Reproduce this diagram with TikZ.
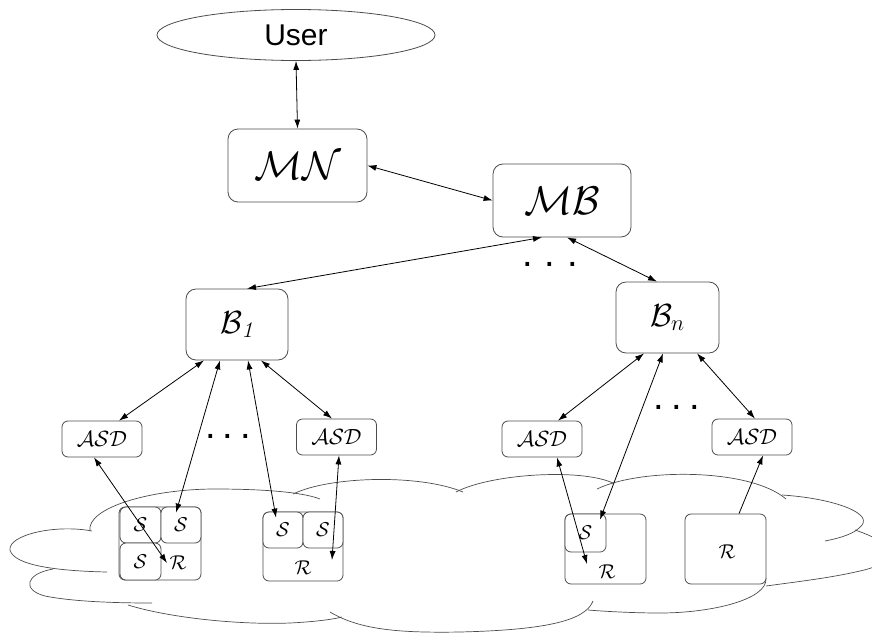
\RequirePackage{fix-cm}
\documentclass[tikz,border=0pt]{standalone}
\usepackage{fontspec}
\newfontfamily\userfont{Liberation Sans}
\usetikzlibrary{arrows.meta,shapes.geometric,positioning}

\begin{document}
\begin{tikzpicture}[x=1pt,y=-1pt,>={Latex[length=9pt,width=6pt]}]
\useasboundingbox (0,0) rectangle (872,635);

\tikzstyle{box} = [draw=black!70, shape=rectangle, rounded corners=10pt, line width=0.8pt, inner sep=0pt, fill=white]
\tikzstyle{asdbox} = [draw=black!70, shape=rectangle, rounded corners=6pt, line width=0.8pt, inner sep=0pt, minimum width=80pt, minimum height=36pt, font=\fontsize{22}{24}\selectfont]
\tikzstyle{cell} = [draw=black!70, shape=rectangle, rounded corners=6pt, line width=0.8pt, inner sep=0pt, fill=white, font=\fontsize{20}{22}\selectfont]
\tikzstyle{celltext} = [inner sep=0pt, font=\fontsize{20}{22}\selectfont]
\tikzstyle{dotrow} = [inner sep=0pt, font=\userfont\fontsize{38}{38}\selectfont]
\tikzstyle{link} = [<->, line width=0.8pt]
\tikzstyle{cloudline} = [draw=black!70, line width=0.7pt]

% Cloud
\begin{scope}
\clip (0,0) rectangle (872,635);
\draw[cloudline] (90,531) .. controls (86,508) and (150,489) .. (215,489) .. controls (270,489) and (305,493) .. (320,499);
\draw[cloudline] (293,494) .. controls (330,476) and (420,474) .. (463,492);
\draw[cloudline] (456,492) .. controls (490,474) and (580,468) .. (613,483);
\draw[cloudline] (597,489) .. controls (640,468) and (750,468) .. (786,499);
\draw[cloudline] (782,495) .. controls (830,498) and (872,512) .. (862,525) .. controls (855,534) and (840,538) .. (825,541);
\draw[cloudline] (855,530) .. controls (900,545) and (900,562) .. (860,571) .. controls (830,578) and (795,582) .. (766,586);
\draw[cloudline] (766,578) .. controls (768,600) and (710,613) .. (660,613) .. controls (630,613) and (600,611) .. (588,610);
\draw[cloudline] (330,612) .. controls (360,630) and (400,633) .. (460,632) .. controls (540,630) and (585,622) .. (593,601);
\draw[cloudline] (128,605) .. controls (170,618) and (240,625) .. (290,623) .. controls (310,622) and (330,620) .. (342,617);
\draw[cloudline] (53,569) .. controls (25,574) and (22,590) .. (45,596) .. controls (75,602) and (120,603) .. (152,603);
\draw[cloudline] (92,531) .. controls (55,524) and (8,535) .. (10,550) .. controls (14,566) and (60,571) .. (107,572);
\end{scope}

\node at (296,35)[draw=black!70, ellipse, line width=0.8pt, inner sep=0pt, minimum width=278pt, minimum height=51pt, font=\userfont\fontsize{30}{32}\selectfont](user){User};

\node at (297.5,165.5)[box, minimum width=139pt, minimum height=73pt, font=\fontsize{40}{42}\selectfont](mn){$\mathcal{MN}$};
\node at (562,200.5)[box, minimum width=138pt, minimum height=73pt, font=\fontsize{40}{42}\selectfont](mb){$\mathcal{MB}$};

\node at (237,324.5)[box, minimum width=102pt, minimum height=71pt, font=\fontsize{32}{34}\selectfont](bone){$\mathcal{B}_{\mathit{1}}$};
\node at (667.5,317.5)[box, minimum width=103pt, minimum height=71pt, font=\fontsize{32}{34}\selectfont](bn){$\mathcal{B}_n$};

\node at (102,439)[asdbox](asda){$\mathcal{ASD}$};
\node at (336.5,437)[asdbox](asdb){$\mathcal{ASD}$};
\node at (542,439)[asdbox](asdc){$\mathcal{ASD}$};
\node at (752,437)[asdbox](asdd){$\mathcal{ASD}$};

\node at (550,264)[dotrow](dotsmb){.\hspace{12pt}.\hspace{12pt}.};
\node at (228,436)[dotrow](dotsbone){.\hspace{7pt}.\hspace{7pt}.};
\node at (677,407)[dotrow](dotsbn){.\hspace{7.5pt}.\hspace{7.5pt}.};

% sensor groups
\node at (160,543.5)[cell, minimum width=82pt, minimum height=73pt](ga){};
\node at (140.5,525)[cell, minimum width=41pt, minimum height=36pt](saa){$\mathcal{S}$};
\node at (181,525)[cell, minimum width=40pt, minimum height=36pt](sab){$\mathcal{S}$};
\node at (140.5,561.5)[cell, minimum width=41pt, minimum height=37pt](sac){$\mathcal{S}$};
\node at (178,563)[celltext](ra){$\mathcal{R}$};

\node at (303,546.5)[cell, minimum width=80pt, minimum height=69pt](gb){};
\node at (283,530)[cell, minimum width=40pt, minimum height=36pt](sba){$\mathcal{S}$};
\node at (323,530)[cell, minimum width=40pt, minimum height=36pt](sbb){$\mathcal{S}$};
\node at (303,568)[celltext](rb){$\mathcal{R}$};

\node at (605.5,549)[cell, minimum width=81pt, minimum height=70pt](gc){};
\node at (585.5,533)[cell, minimum width=41pt, minimum height=38pt](sca){$\mathcal{S}$};
\node at (607,572)[celltext](rc){$\mathcal{R}$};

\node at (725.5,549)[cell, minimum width=81pt, minimum height=70pt](gd){};
\node at (727,552)[celltext](rd){$\mathcal{R}$};

\draw[link] (user.south) -- (mn.north);
\draw[link] (mn.east) -- (mb.west);
\draw[link] ([xshift=-20pt]mb.south) -- ([xshift=10pt]bone.north);
\draw[link] ([xshift=5pt]mb.south) -- ([xshift=-10.5pt]bn.north);

\draw[link] ([xshift=-33pt]bone.south) -- ([xshift=17pt]asda.north);
\draw[link] ([xshift=-17pt]bone.south) -- ([xshift=-5pt,yshift=-6pt]sab.north);
\draw[link] ([xshift=11pt]bone.south) -- ([xshift=-7pt,yshift=-6pt]sba.north);
\draw[link] ([xshift=24pt]bone.south) -- ([xshift=-4.5pt]asdb.north);
\draw[link] ([xshift=-8pt]asda.south) -- ([xshift=-11pt]ra.center);
\draw[link] ([xshift=2.5pt]asdb.south) -- ([xshift=29pt,yshift=8pt]rb.center);

\draw[link] ([xshift=-23.5pt]bn.south) -- ([xshift=16pt]asdc.north);
\draw[link] ([xshift=-4.5pt]bn.south) -- ([xshift=14.5pt,yshift=-6pt]sca.north);
\draw[link] ([xshift=29.5pt]bn.south) -- ([xshift=3pt]asdd.north);
\draw[link] ([xshift=15pt]asdc.south) -- ([xshift=-20pt,yshift=8pt]rc.center);
\draw[->, line width=0.8pt] ([xshift=13.5pt]gd.north) -- ([xshift=11pt]asdd.south);

\end{tikzpicture}
\end{document}
